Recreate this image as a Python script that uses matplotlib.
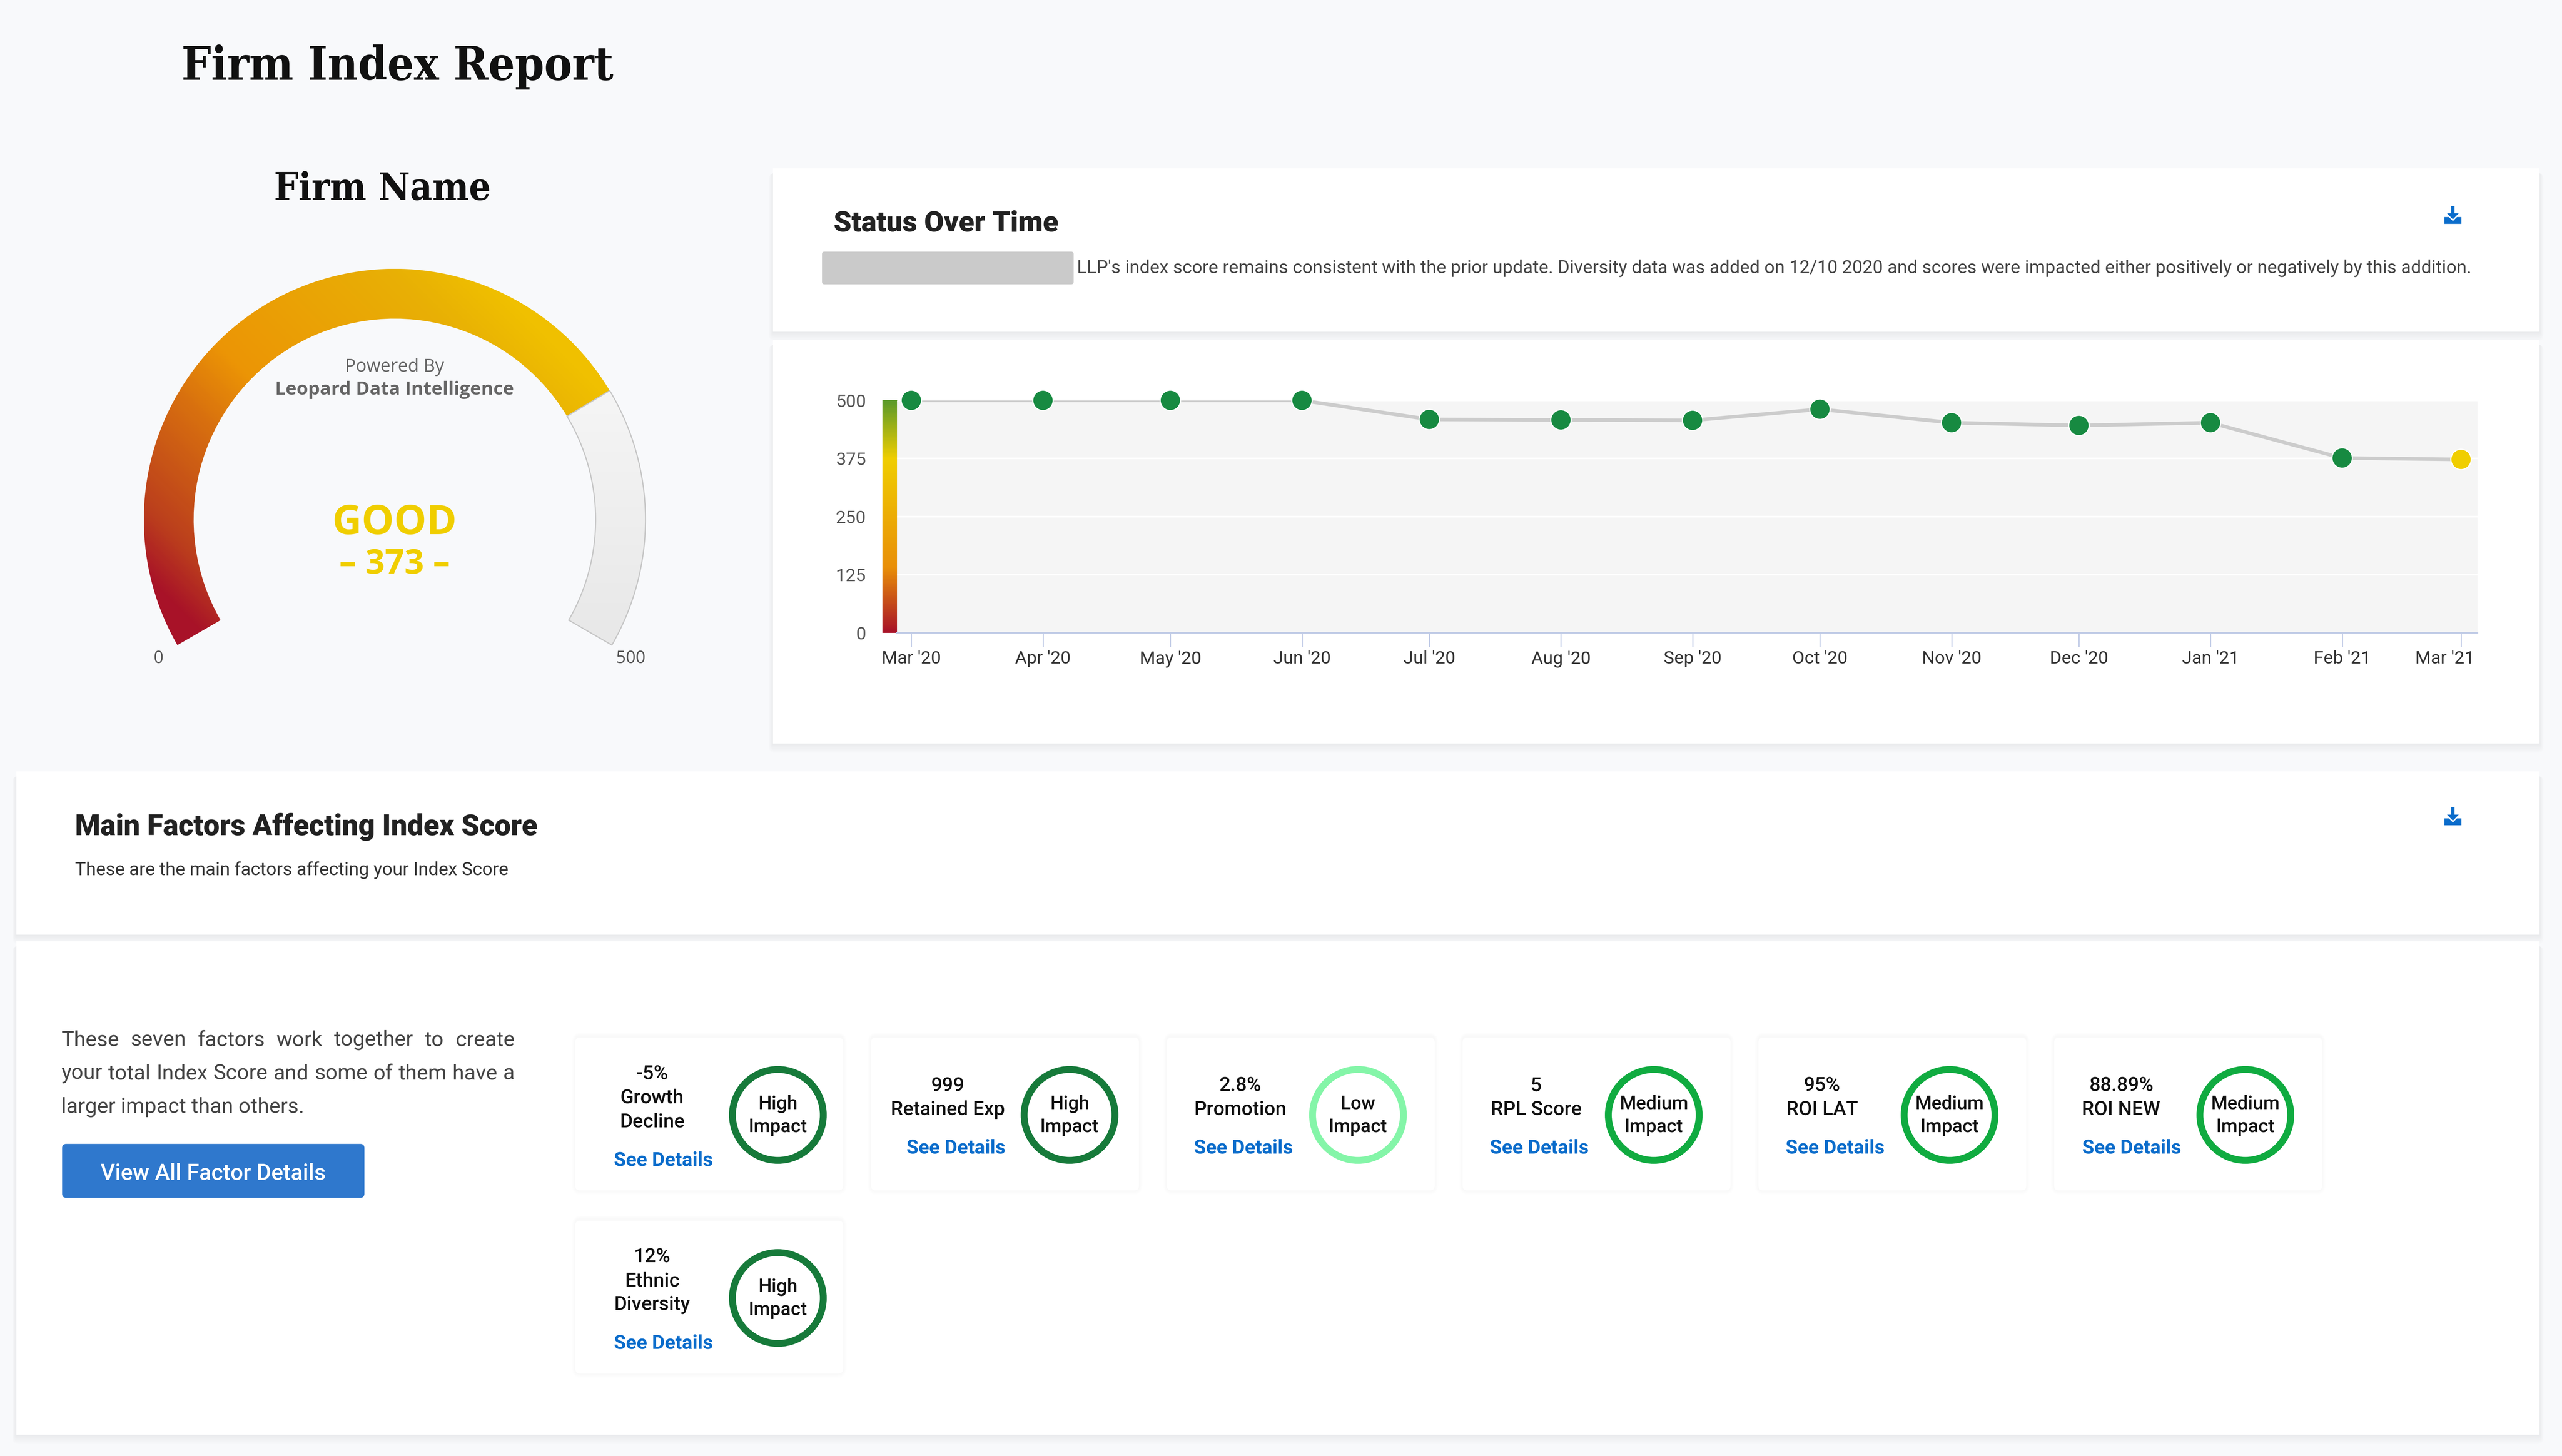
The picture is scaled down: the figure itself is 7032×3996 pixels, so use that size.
import datetime as dt
import numpy as np
import matplotlib
matplotlib.use("Agg")
import matplotlib.pyplot as plt
import matplotlib.dates as mdates
from matplotlib.colors import LinearSegmentedColormap
from matplotlib.patches import Circle, FancyBboxPatch, Polygon, Wedge
from matplotlib.transforms import ScaledTranslation

# Data
months = ["Mar '20", "Apr '20", "May '20", "Jun '20", "Jul '20", "Aug '20", "Sep '20",
          "Oct '20", "Nov '20", "Dec '20", "Jan '21", "Feb '21", "Mar '21"]
month_dates = [dt.date(2020, m, 1) for m in range(3, 13)] + [dt.date(2021, m, 1) for m in range(1, 4)]
scores = [500, 500, 500, 500, 459, 458, 457, 481, 452, 446, 452, 376, 373]
score_ticks = [0, 125, 250, 375, 500]
gauge_min = 0
gauge_max = 500
gauge_value = 373
gauge_label = "GOOD"

factor_values = ["-5%", "999", "2.8%", "5", "95%", "88.89%", "12%"]
factor_names = ["Growth\nDecline", "Retained Exp", "Promotion", "RPL Score", "ROI LAT", "ROI NEW", "Ethnic\nDiversity"]
factor_impacts = ["High", "High", "Low", "Medium", "Medium", "Medium", "High"]

# Layout is in units of the 1568 x 891 page
W, H = 1568, 891
DPI = 300
PX = 7033 / W * 72 / DPI  # one page unit in points
plt.rcParams["font.family"] = ["Roboto", "DejaVu Sans"]

PAGE = "#f8f9fb"
BLUE = "#0a6ccb"
GREEN = "#178a41"
YELLOW = "#f0ce00"
impact_colors = {"High": "#167a3a", "Medium": "#10ab40", "Low": "#84f5a8"}

fig = plt.figure(figsize=(7033 / DPI, 3996 / DPI), dpi=DPI, facecolor=PAGE)
page = fig.add_axes([0, 0, 1, 1])
page.set_xlim(0, W)
page.set_ylim(H, 0)
page.axis("off")


def label(x, y, s, size, color="#222222", weight="normal", ha="center", family=None, **kw):
    if family:
        kw["family"] = family
    return page.text(x, y + 1, s, fontsize=size * PX, color=color, fontweight=weight, ha=ha, va="center", **kw)


def panel(x0, y0, x1, y1, spread=7, alpha=0.009, radius=0, top=3, z=1):
    # soft shadow from stacked see-through boxes, mostly below the box
    for i in range(spread, 0, -1):
        page.add_patch(FancyBboxPatch((x0 - i * 0.35, y0 + top - i * (top < 0) * 0.35), x1 - x0 + i * 0.7,
                                      y1 - y0 - top + i * 0.8,
                                      boxstyle=f"round,pad=0,rounding_size={radius + i * 0.5}",
                                      fc="black", ec="none", alpha=alpha, zorder=z))
    page.add_patch(FancyBboxPatch((x0, y0), x1 - x0, y1 - y0, boxstyle=f"round,pad=0,rounding_size={radius}",
                                  fc="white", ec="none", zorder=z + 0.1))


def download_icon(cx, cy):
    arrow = [(cx - 1, cy - 6), (cx + 1, cy - 6), (cx + 1, cy - 1.5), (cx + 3.6, cy - 1.5), (cx, cy + 2.2),
             (cx - 3.6, cy - 1.5), (cx - 1, cy - 1.5)]
    tray = [(cx - 5.2, cy + 0.8), (cx - 2.5, cy + 0.8), (cx, cy + 3.3), (cx + 2.5, cy + 0.8), (cx + 5.2, cy + 0.8),
            (cx + 5.2, cy + 5), (cx - 5.2, cy + 5)]
    page.add_patch(Polygon(arrow, fc=BLUE, ec="none", zorder=2))
    page.add_patch(Polygon(tray, fc=BLUE, ec="none", zorder=2))


def justified(x0, x1, y, s, size, color):
    # spread the words over the full line, like text-align: justify
    words = s.split()
    items = [label(x0, y, w, size, color=color, ha="left", zorder=2) for w in words]
    rend = fig.canvas.get_renderer()
    inv = page.transData.inverted()
    widths = []
    for t in items:
        bb = t.get_window_extent(rend)
        widths.append(inv.transform((bb.x1, 0))[0] - inv.transform((bb.x0, 0))[0])
    gap = (x1 - x0 - sum(widths)) / (len(words) - 1)
    x = x0
    for t, w in zip(items, widths):
        t.set_x(x)
        x += w + gap


# Panels
panel(473, 103, 1554, 203)
panel(473, 208, 1554, 455)
panel(10, 472, 1554, 572)
panel(10, 576, 1554, 878)

# Headings
SLAB = "DejaVu Serif"
label(111, 40, "Firm Index Report", 28.5, color="#111111", weight="bold", ha="left", family=SLAB, stretch="condensed")
label(234, 115, "Firm Name", 23.5, color="#111111", weight="bold", family=SLAB, stretch="condensed")
label(510, 136, "Status Over Time", 17.5, color="#222222", weight="black", ha="left", zorder=2)
label(46, 505, "Main Factors Affecting Index Score", 17.7, color="#222222", weight="black", ha="left", zorder=2)
label(46, 531.5, "These are the main factors affecting your Index Score", 11.15, color="#333333", ha="left", zorder=2)
page.add_patch(FancyBboxPatch((503, 154), 154, 20, boxstyle="round,pad=0,rounding_size=1.5", fc="#cacaca", ec="none", zorder=2))
label(659, 163, "LLP's index score remains consistent with the prior update. Diversity data was added on 12/10 2020 "
      "and scores were impacted either positively or negatively by this addition.", 11.14, color="#444444", ha="left", zorder=2)
download_icon(1501, 132)
download_icon(1501, 500)

# Gauge
CX, CY, R_OUT, R_IN = 241.5, 318, 153.5, 123
START, SWEEP = 210, 240
val_angle = START - (gauge_value - gauge_min) / (gauge_max - gauge_min) * SWEEP

gauge_cmap = LinearSegmentedColormap.from_list("gauge", [(0, "#a81228"), (0.05, "#a81228"), (0.15, "#bb3e1d"),
                                                         (0.37, "#d8700f"), (0.5, "#ec9505"), (0.87, "#e8b005"),
                                                         (1, "#f0c000")])
gx, gy = np.meshgrid(np.linspace(-1, 1, 400), np.linspace(-1, 1, 400))
grad = (0.7 * gx - 0.7 * gy + 0.95) / 1.89
x_ext = (CX - R_OUT, CX + R_OUT, CY + R_OUT, CY - R_OUT)
fill = Wedge((CX, CY), R_OUT, -START, -val_angle, width=R_OUT - R_IN, transform=page.transData, fc="none", ec="none")
img = page.imshow(grad, extent=x_ext, cmap=gauge_cmap, vmin=0, vmax=1, aspect="auto", zorder=2)
img.set_clip_path(fill)

rest_cmap = LinearSegmentedColormap.from_list("rest", [(0, "#f5f5f5"), (0.25, "#f5f5f5"), (0.74, "#e8e8e8"), (1, "#e8e8e8")])
rest = Wedge((CX, CY), R_OUT, -val_angle, -(START - SWEEP), width=R_OUT - R_IN,
             transform=page.transData, fc="none", ec="#c6c6c6", lw=0.7 * PX, zorder=2.1)
page.add_patch(rest)
img2 = page.imshow(np.linspace(0, 1, 200)[:, None], extent=x_ext, cmap=rest_cmap, aspect="auto", zorder=2)
img2.set_clip_path(rest)
page.set_xlim(0, W)
page.set_ylim(H, 0)

GAUGE_FONT = "Open Sans"
label(241.5, 223.5, "Powered By", 11, color="#666666", family=GAUGE_FONT, zorder=3)
label(241.5, 237.5, "Leopard Data Intelligence", 11.4, color="#666666", weight="bold", family=GAUGE_FONT, zorder=3)
label(241.5, 319.5, gauge_label, 25, color=YELLOW, weight="bold", family=GAUGE_FONT, zorder=3)
label(241.5, 344.5, f"– {gauge_value} –", 21, color=YELLOW, weight="bold", family=GAUGE_FONT, zorder=3)
label(97, 402, str(gauge_min), 10.5, color="#555555", family=GAUGE_FONT, zorder=3)
label(386, 402, str(gauge_max), 10.5, color="#555555", family=GAUGE_FONT, zorder=3)

# Line chart
L, R, T, B = 549, 1516, 245, 387.3
ax = fig.add_axes([L / W, 1 - B / H, (R - L) / W, (B - T) / H], zorder=5)
ax.set_facecolor("#f5f5f5")
dates = mdates.date2num(month_dates)
ax.set_xlim(dates[0] - 3.35, dates[-1] + 3.85)
ax.set_ylim(0, 500)
ax.set_axisbelow(True)
ax.grid(axis="y", color="white", lw=1 * PX)
ax.grid(axis="x", visible=False)
for side in ["top", "left", "right"]:
    ax.spines[side].set_visible(False)
ax.spines["bottom"].set_color("#c0cbe6")
ax.spines["bottom"].set_linewidth(0.9 * PX)
ax.plot(dates, scores, color="#cccccc", lw=2.2 * PX, zorder=2)
point_colors = [GREEN] * (len(scores) - 1) + [YELLOW]
ax.scatter(dates, scores, s=(12.5 * PX) ** 2, c=point_colors, edgecolors="white", linewidths=0.7 * PX, zorder=3, clip_on=False)
ax.set_yticks(score_ticks)
ax.set_yticklabels([str(v) for v in score_ticks], fontsize=11 * PX, color="#555555")
ax.tick_params(axis="y", length=0, pad=19 * PX)
ax.set_xticks(dates)
ax.set_xticklabels(months, fontsize=11 * PX, color="#333333")
ax.tick_params(axis="x", length=8.5 * PX, width=0.7 * PX, color="#c0cbe6", pad=2.3 * PX)
# last label is pushed in so it stays inside the chart
last = ax.get_xticklabels()[-1]
last.set_transform(last.get_transform() + ScaledTranslation(-10 * PX / 72, 0, fig.dpi_scale_trans))

bar_cmap = LinearSegmentedColormap.from_list("bar", [(0, "#5b9a2a"), (0.25, YELLOW), (0.72, "#e98f08"), (1, "#a81228")])
page.imshow(np.linspace(0, 1, 200)[:, None], extent=(540, L, B, T), cmap=bar_cmap, aspect="auto", zorder=6)
page.set_xlim(0, W)
page.set_ylim(H, 0)

# Factor copy and button
justified(37.5, 315, 635.5, "These seven factors work together to create", 13, "#444444")
justified(37.5, 315, 656, "your total Index Score and some of them have a", 13, "#444444")
label(37.5, 676.5, "larger impact than others.", 13, color="#444444", ha="left", zorder=2)
page.add_patch(FancyBboxPatch((38, 700), 185, 33, boxstyle="round,pad=0,rounding_size=2.5", fc="#2f78cd", ec="none", zorder=2))
label(130.5, 717, "View All Factor Details", 13.7, color="white", weight="medium", zorder=3)

# Factor cards
card_x = [352, 533, 714, 895, 1076, 1257, 352]
card_y = [635, 635, 635, 635, 635, 635, 747]
text_x = [399, 580, 759, 940, 1115, 1298, 399]
link_x = [406, 585, 761, 942, 1123, 1304.5, 406]
ring_x = [476, 654.5, 831, 1012, 1193, 1374, 476]
for i in range(len(factor_values)):
    x, y = card_x[i], card_y[i]
    panel(x, y, x + 164, y + 93.5, spread=6, alpha=0.004, radius=3, top=-1, z=1.3)
    lines = [factor_values[i]] + factor_names[i].split("\n")
    two_line = len(lines) == 2
    y0 = y + (28.5 if two_line else 21.3)
    for j, s in enumerate(lines):
        label(text_x[i], y0 + j * 14.6, s, 12, color="#111111", weight="medium", zorder=3)
    label(link_x[i], y + (66.6 if two_line else 74.1), "See Details", 12, color=BLUE, weight="bold", zorder=3)
    cy = y + 47.3
    page.add_patch(Circle((ring_x[i], cy), 27.8, fc="white", ec=impact_colors[factor_impacts[i]], lw=4.2 * PX, zorder=3))
    label(ring_x[i], cy - 7.7, factor_impacts[i], 11.5, color="#111111", weight="medium", zorder=4)
    label(ring_x[i], cy + 6.3, "Impact", 11.5, color="#111111", weight="medium", zorder=4)

fig.savefig("out.png", dpi=DPI, facecolor=PAGE)
